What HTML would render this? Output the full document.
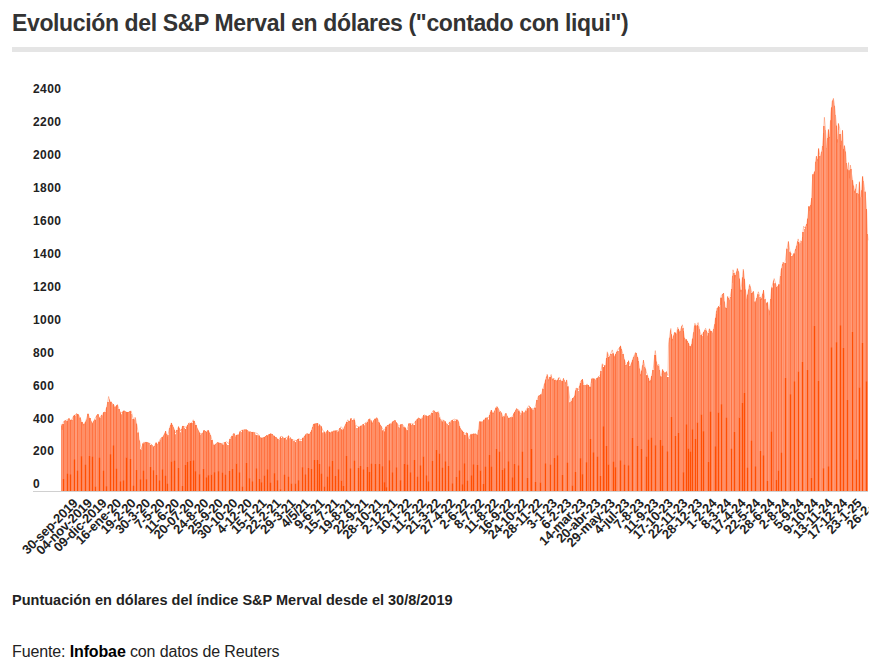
<!DOCTYPE html>
<html><head><meta charset="utf-8"><title>Merval</title>
<style>
html,body{margin:0;padding:0;background:#fff;}
body{width:878px;height:668px;overflow:hidden;position:relative;font-family:"Liberation Sans",sans-serif;}
#title{position:absolute;left:12px;top:9px;font-size:23px;font-weight:bold;color:#333;white-space:nowrap;line-height:28px;letter-spacing:-0.37px;}
#bar{position:absolute;left:12px;top:47px;width:856px;height:5px;background:#e5e5e5;}
#note{position:absolute;left:12px;top:591px;font-size:14.5px;font-weight:bold;color:#222;white-space:nowrap;line-height:18px;letter-spacing:0;}
#src{position:absolute;left:12px;top:641.5px;font-size:16px;color:#222;white-space:nowrap;line-height:20px;letter-spacing:-0.13px;}
#src b{color:#000;}
svg{position:absolute;left:0;top:0;}
svg text{font-family:"Liberation Sans",sans-serif;font-weight:bold;fill:#222;}
.yl text{font-size:12px;letter-spacing:0.4px;}
.xl text{font-size:13px;letter-spacing:-0.2px;}
</style></head><body>
<div id="title">Evolución del S&amp;P Merval en dólares ("contado con liqui")</div>
<div id="bar"></div>
<svg width="878" height="668" viewBox="0 0 878 668">
<defs><clipPath id="cp"><path d="M61,491 V425.4 H62 V424.0 H64 V420.8 H65 V420.3 H66 V421.0 H67 V420.7 H68 V418.6 H69 V418.6 H70 V419.9 H71 V419.8 H73 V415.8 H74 V415.0 H75 V415.7 H76 V413.4 H77 V414.0 H78 V414.4 H79 V417.6 H81 V422.0 H83 V423.7 H85 V421.5 H86 V419.5 H87 V413.8 H89 V418.0 H91 V421.4 H92 V423.2 H93 V421.2 H94 V419.8 H96 V415.6 H97 V414.3 H99 V417.5 H101 V415.0 H102 V415.5 H103 V412.0 H105 V412.1 H106 V407.4 H107 V402.1 H109 V399.6 H110 V401.7 H112 V404.5 H113 V404.2 H114 V406.7 H116 V405.4 H117 V404.7 H118 V409.1 H120 V412.4 H121 V414.3 H122 V411.7 H123 V410.7 H125 V411.4 H126 V411.9 H127 V412.0 H129 V411.2 H131 V414.3 H132 V418.9 H134 V419.3 H135 V418.3 H136 V423.8 H137 V432.6 H139 V440.6 H140 V449.5 H142 V443.4 H144 V442.8 H145 V442.1 H146 V442.2 H148 V442.7 H149 V443.0 H150 V444.9 H151 V444.5 H152 V445.5 H153 V446.5 H154 V446.0 H155 V443.2 H156 V442.8 H157 V444.1 H158 V441.8 H160 V439.6 H161 V437.6 H162 V436.9 H163 V435.6 H164 V433.4 H165 V431.2 H166 V434.0 H167 V435.2 H169 V428.0 H170 V425.0 H171 V423.0 H172 V425.0 H173 V427.2 H174 V429.7 H175 V434.3 H176 V429.9 H178 V426.6 H179 V428.2 H180 V432.2 H181 V428.9 H182 V425.9 H184 V427.8 H185 V428.9 H186 V426.8 H187 V425.1 H188 V423.3 H189 V423.6 H190 V423.0 H191 V422.8 H192 V422.9 H193 V420.9 H195 V425.0 H197 V428.4 H198 V430.5 H199 V432.5 H200 V434.5 H201 V433.7 H202 V433.2 H203 V430.2 H205 V431.1 H206 V432.1 H207 V430.6 H208 V430.4 H209 V432.7 H210 V434.9 H211 V439.9 H213 V444.8 H215 V444.0 H216 V442.9 H217 V442.2 H218 V442.5 H219 V442.9 H221 V443.4 H222 V444.5 H224 V442.3 H225 V441.9 H226 V443.6 H227 V444.9 H229 V439.0 H231 V436.2 H232 V436.0 H233 V433.5 H235 V436.3 H236 V435.0 H237 V434.7 H239 V431.6 H241 V432.2 H242 V429.9 H243 V430.6 H244 V429.5 H245 V429.6 H247 V430.2 H248 V431.4 H250 V431.5 H251 V432.1 H252 V432.1 H253 V432.1 H254 V432.4 H255 V434.6 H256 V435.3 H258 V435.4 H260 V437.6 H261 V437.7 H262 V437.7 H263 V437.3 H264 V436.9 H265 V435.9 H266 V435.1 H267 V435.7 H268 V434.6 H269 V434.1 H270 V433.6 H271 V434.1 H273 V435.8 H275 V437.1 H276 V437.2 H277 V438.7 H278 V439.5 H279 V439.8 H280 V436.7 H281 V438.0 H282 V436.8 H283 V438.3 H284 V438.1 H285 V437.7 H286 V439.4 H287 V437.4 H288 V435.5 H289 V438.5 H290 V437.6 H291 V439.2 H293 V440.9 H295 V442.3 H296 V440.1 H297 V438.9 H299 V440.8 H301 V441.2 H302 V437.8 H304 V435.9 H305 V434.5 H306 V433.9 H307 V433.6 H308 V433.9 H310 V432.1 H311 V430.2 H312 V427.0 H313 V423.9 H314 V423.8 H315 V423.6 H316 V423.3 H318 V425.6 H319 V424.5 H320 V425.9 H322 V432.4 H324 V431.8 H325 V433.3 H326 V431.6 H327 V430.3 H328 V431.7 H329 V432.0 H330 V432.5 H331 V431.4 H333 V430.8 H335 V430.6 H336 V430.4 H337 V431.5 H339 V427.9 H341 V429.5 H343 V429.3 H344 V426.4 H345 V424.2 H346 V422.1 H347 V422.1 H348 V421.0 H350 V418.4 H352 V419.9 H354 V419.7 H355 V425.4 H356 V427.9 H358 V426.7 H359 V426.7 H360 V425.8 H362 V424.4 H363 V424.1 H364 V425.3 H365 V422.7 H366 V423.0 H367 V422.1 H368 V419.2 H370 V420.6 H372 V422.8 H373 V420.5 H374 V418.8 H376 V417.8 H377 V418.6 H378 V422.1 H379 V422.7 H380 V425.0 H381 V426.2 H382 V430.5 H384 V431.4 H385 V426.7 H387 V424.9 H389 V423.8 H391 V423.6 H392 V421.6 H393 V421.0 H394 V420.3 H396 V422.3 H397 V423.7 H398 V426.5 H399 V427.5 H400 V424.3 H402 V424.4 H403 V426.8 H404 V427.6 H406 V430.3 H408 V423.6 H410 V423.5 H411 V425.1 H412 V423.8 H413 V425.1 H415 V421.0 H416 V419.7 H417 V418.7 H418 V417.7 H419 V418.2 H420 V418.9 H422 V417.8 H423 V415.1 H424 V415.8 H425 V415.4 H427 V416.3 H428 V415.7 H429 V415.1 H430 V415.3 H431 V413.0 H433 V410.7 H435 V412.0 H436 V412.4 H437 V411.9 H438 V412.8 H439 V417.6 H440 V419.2 H441 V420.6 H442 V421.5 H443 V420.1 H444 V421.3 H446 V423.7 H447 V424.2 H448 V425.2 H449 V422.0 H450 V422.2 H451 V420.4 H452 V419.9 H453 V421.0 H454 V420.7 H456 V419.8 H458 V421.4 H459 V426.3 H460 V428.3 H461 V429.8 H462 V430.7 H463 V432.1 H464 V434.7 H466 V432.4 H467 V433.1 H468 V438.8 H470 V434.6 H472 V434.0 H473 V433.4 H474 V433.7 H475 V433.6 H476 V434.5 H477 V434.8 H478 V429.7 H479 V421.5 H481 V421.7 H483 V419.7 H485 V417.8 H487 V417.5 H488 V419.4 H489 V414.9 H490 V411.8 H491 V410.3 H492 V412.7 H494 V410.7 H495 V407.8 H497 V407.1 H498 V408.8 H499 V411.7 H500 V411.5 H501 V412.8 H502 V416.8 H503 V416.6 H505 V413.5 H507 V416.2 H508 V418.0 H509 V417.7 H510 V417.2 H511 V417.3 H513 V413.5 H514 V411.9 H515 V410.3 H516 V408.5 H517 V409.0 H518 V410.8 H519 V411.4 H520 V415.2 H521 V413.2 H522 V411.2 H523 V412.8 H524 V412.4 H525 V410.7 H526 V410.5 H527 V408.6 H528 V408.1 H529 V406.0 H530 V407.3 H531 V408.5 H532 V409.5 H533 V409.8 H534 V407.7 H536 V400.1 H538 V395.8 H539 V395.2 H540 V394.3 H542 V388.7 H544 V383.4 H545 V379.4 H546 V376.4 H547 V375.2 H548 V379.4 H549 V377.1 H551 V376.0 H552 V378.7 H554 V379.9 H556 V380.7 H557 V380.0 H558 V377.9 H559 V380.1 H561 V381.2 H562 V380.9 H563 V378.3 H564 V380.3 H565 V382.3 H566 V380.2 H567 V386.4 H569 V402.2 H571 V400.9 H572 V398.3 H573 V397.6 H574 V395.7 H575 V390.3 H576 V388.3 H578 V391.0 H579 V385.7 H580 V382.9 H581 V380.1 H582 V379.3 H583 V385.0 H585 V385.2 H587 V385.1 H589 V386.8 H591 V378.7 H593 V378.7 H595 V380.3 H596 V378.2 H597 V378.0 H598 V376.4 H599 V376.9 H600 V371.0 H602 V364.4 H603 V366.9 H604 V365.6 H606 V357.9 H607 V353.2 H608 V357.1 H609 V356.5 H610 V354.1 H612 V353.3 H614 V356.5 H615 V354.3 H616 V352.1 H617 V351.1 H619 V347.2 H620 V345.8 H621 V349.1 H622 V354.0 H624 V359.0 H625 V364.9 H627 V362.1 H628 V360.6 H629 V366.1 H631 V362.4 H632 V359.7 H633 V356.9 H634 V355.6 H635 V353.1 H637 V356.9 H638 V361.1 H639 V368.4 H640 V374.3 H641 V370.5 H642 V365.2 H643 V360.0 H644 V366.7 H645 V368.5 H646 V375.2 H648 V378.0 H649 V380.9 H650 V380.2 H651 V376.1 H652 V369.9 H654 V355.0 H656 V361.4 H657 V365.6 H658 V365.7 H659 V370.0 H660 V376.5 H662 V369.6 H663 V370.9 H664 V372.6 H666 V371.5 H667 V377.0 H669 V337.8 H670 V330.3 H671 V334.1 H672 V338.9 H673 V335.6 H674 V332.5 H676 V333.8 H677 V329.6 H678 V328.9 H679 V331.7 H680 V330.8 H681 V326.2 H682 V328.3 H684 V337.7 H685 V339.4 H687 V341.0 H688 V343.0 H689 V345.9 H691 V344.2 H692 V338.8 H693 V332.3 H694 V325.6 H695 V325.4 H696 V326.0 H697 V325.2 H698 V326.4 H699 V329.3 H700 V334.7 H702 V336.2 H703 V332.1 H704 V330.2 H705 V330.0 H706 V330.7 H707 V335.2 H708 V333.1 H709 V328.7 H710 V330.9 H712 V333.0 H713 V329.1 H714 V324.2 H715 V317.8 H716 V310.7 H717 V307.9 H718 V306.0 H719 V307.1 H720 V297.8 H722 V294.0 H723 V292.9 H724 V301.4 H725 V307.6 H726 V308.0 H727 V297.0 H728 V298.0 H729 V300.3 H730 V297.1 H731 V289.0 H732 V275.8 H733 V272.9 H735 V275.0 H736 V271.6 H737 V268.8 H738 V271.2 H739 V278.6 H740 V289.7 H742 V277.4 H743 V270.6 H744 V278.8 H745 V289.4 H746 V299.1 H747 V294.6 H748 V289.6 H749 V285.6 H750 V286.7 H751 V292.9 H752 V292.4 H753 V291.6 H754 V301.4 H756 V298.1 H757 V294.2 H759 V296.9 H761 V298.3 H762 V293.7 H763 V290.3 H764 V299.3 H766 V302.8 H768 V309.8 H769 V310.5 H770 V299.1 H771 V287.4 H773 V280.5 H774 V283.3 H776 V286.9 H777 V286.5 H778 V284.3 H780 V275.9 H781 V268.4 H782 V264.1 H783 V262.4 H784 V263.1 H786 V248.8 H788 V241.8 H789 V251.8 H791 V256.1 H793 V253.6 H795 V249.1 H796 V245.8 H797 V241.3 H798 V242.1 H799 V243.9 H800 V242.7 H801 V241.6 H802 V232.1 H804 V229.0 H805 V226.8 H806 V224.1 H807 V218.4 H808 V206.6 H810 V205.0 H811 V198.3 H812 V174.3 H814 V171.6 H815 V161.7 H816 V156.3 H817 V159.2 H818 V149.3 H819 V156.1 H821 V151.7 H822 V145.9 H823 V126.0 H825 V130.4 H826 V147.9 H827 V138.0 H828 V129.7 H829 V137.1 H830 V120.3 H831 V107.4 H832 V100.5 H833 V98.8 H834 V105.7 H835 V115.3 H836 V125.5 H837 V139.2 H838 V123.6 H839 V134.1 H841 V140.7 H842 V130.3 H843 V149.1 H844 V145.8 H845 V151.6 H846 V163.0 H847 V169.6 H848 V170.2 H850 V169.1 H852 V180.2 H853 V185.4 H854 V190.8 H855 V188.7 H856 V193.2 H858 V193.7 H859 V182.2 H860 V197.7 H861 V190.3 H862 V177.1 H863 V181.1 H864 V191.8 H866 V209.0 H867 V234.1 H868 V491 Z"/></clipPath><clipPath id="cx"><rect x="0" y="480" width="868.5" height="120"/></clipPath></defs>
<path d="M33,491.5 H868" stroke="#d0d0d0" stroke-width="1" fill="none"/>
<path d="M61,491 V425.4 H62 V424.0 H64 V420.8 H65 V420.3 H66 V421.0 H67 V420.7 H68 V418.6 H69 V418.6 H70 V419.9 H71 V419.8 H73 V415.8 H74 V415.0 H75 V415.7 H76 V413.4 H77 V414.0 H78 V414.4 H79 V417.6 H81 V422.0 H83 V423.7 H85 V421.5 H86 V419.5 H87 V413.8 H89 V418.0 H91 V421.4 H92 V423.2 H93 V421.2 H94 V419.8 H96 V415.6 H97 V414.3 H99 V417.5 H101 V415.0 H102 V415.5 H103 V412.0 H105 V412.1 H106 V407.4 H107 V402.1 H109 V399.6 H110 V401.7 H112 V404.5 H113 V404.2 H114 V406.7 H116 V405.4 H117 V404.7 H118 V409.1 H120 V412.4 H121 V414.3 H122 V411.7 H123 V410.7 H125 V411.4 H126 V411.9 H127 V412.0 H129 V411.2 H131 V414.3 H132 V418.9 H134 V419.3 H135 V418.3 H136 V423.8 H137 V432.6 H139 V440.6 H140 V449.5 H142 V443.4 H144 V442.8 H145 V442.1 H146 V442.2 H148 V442.7 H149 V443.0 H150 V444.9 H151 V444.5 H152 V445.5 H153 V446.5 H154 V446.0 H155 V443.2 H156 V442.8 H157 V444.1 H158 V441.8 H160 V439.6 H161 V437.6 H162 V436.9 H163 V435.6 H164 V433.4 H165 V431.2 H166 V434.0 H167 V435.2 H169 V428.0 H170 V425.0 H171 V423.0 H172 V425.0 H173 V427.2 H174 V429.7 H175 V434.3 H176 V429.9 H178 V426.6 H179 V428.2 H180 V432.2 H181 V428.9 H182 V425.9 H184 V427.8 H185 V428.9 H186 V426.8 H187 V425.1 H188 V423.3 H189 V423.6 H190 V423.0 H191 V422.8 H192 V422.9 H193 V420.9 H195 V425.0 H197 V428.4 H198 V430.5 H199 V432.5 H200 V434.5 H201 V433.7 H202 V433.2 H203 V430.2 H205 V431.1 H206 V432.1 H207 V430.6 H208 V430.4 H209 V432.7 H210 V434.9 H211 V439.9 H213 V444.8 H215 V444.0 H216 V442.9 H217 V442.2 H218 V442.5 H219 V442.9 H221 V443.4 H222 V444.5 H224 V442.3 H225 V441.9 H226 V443.6 H227 V444.9 H229 V439.0 H231 V436.2 H232 V436.0 H233 V433.5 H235 V436.3 H236 V435.0 H237 V434.7 H239 V431.6 H241 V432.2 H242 V429.9 H243 V430.6 H244 V429.5 H245 V429.6 H247 V430.2 H248 V431.4 H250 V431.5 H251 V432.1 H252 V432.1 H253 V432.1 H254 V432.4 H255 V434.6 H256 V435.3 H258 V435.4 H260 V437.6 H261 V437.7 H262 V437.7 H263 V437.3 H264 V436.9 H265 V435.9 H266 V435.1 H267 V435.7 H268 V434.6 H269 V434.1 H270 V433.6 H271 V434.1 H273 V435.8 H275 V437.1 H276 V437.2 H277 V438.7 H278 V439.5 H279 V439.8 H280 V436.7 H281 V438.0 H282 V436.8 H283 V438.3 H284 V438.1 H285 V437.7 H286 V439.4 H287 V437.4 H288 V435.5 H289 V438.5 H290 V437.6 H291 V439.2 H293 V440.9 H295 V442.3 H296 V440.1 H297 V438.9 H299 V440.8 H301 V441.2 H302 V437.8 H304 V435.9 H305 V434.5 H306 V433.9 H307 V433.6 H308 V433.9 H310 V432.1 H311 V430.2 H312 V427.0 H313 V423.9 H314 V423.8 H315 V423.6 H316 V423.3 H318 V425.6 H319 V424.5 H320 V425.9 H322 V432.4 H324 V431.8 H325 V433.3 H326 V431.6 H327 V430.3 H328 V431.7 H329 V432.0 H330 V432.5 H331 V431.4 H333 V430.8 H335 V430.6 H336 V430.4 H337 V431.5 H339 V427.9 H341 V429.5 H343 V429.3 H344 V426.4 H345 V424.2 H346 V422.1 H347 V422.1 H348 V421.0 H350 V418.4 H352 V419.9 H354 V419.7 H355 V425.4 H356 V427.9 H358 V426.7 H359 V426.7 H360 V425.8 H362 V424.4 H363 V424.1 H364 V425.3 H365 V422.7 H366 V423.0 H367 V422.1 H368 V419.2 H370 V420.6 H372 V422.8 H373 V420.5 H374 V418.8 H376 V417.8 H377 V418.6 H378 V422.1 H379 V422.7 H380 V425.0 H381 V426.2 H382 V430.5 H384 V431.4 H385 V426.7 H387 V424.9 H389 V423.8 H391 V423.6 H392 V421.6 H393 V421.0 H394 V420.3 H396 V422.3 H397 V423.7 H398 V426.5 H399 V427.5 H400 V424.3 H402 V424.4 H403 V426.8 H404 V427.6 H406 V430.3 H408 V423.6 H410 V423.5 H411 V425.1 H412 V423.8 H413 V425.1 H415 V421.0 H416 V419.7 H417 V418.7 H418 V417.7 H419 V418.2 H420 V418.9 H422 V417.8 H423 V415.1 H424 V415.8 H425 V415.4 H427 V416.3 H428 V415.7 H429 V415.1 H430 V415.3 H431 V413.0 H433 V410.7 H435 V412.0 H436 V412.4 H437 V411.9 H438 V412.8 H439 V417.6 H440 V419.2 H441 V420.6 H442 V421.5 H443 V420.1 H444 V421.3 H446 V423.7 H447 V424.2 H448 V425.2 H449 V422.0 H450 V422.2 H451 V420.4 H452 V419.9 H453 V421.0 H454 V420.7 H456 V419.8 H458 V421.4 H459 V426.3 H460 V428.3 H461 V429.8 H462 V430.7 H463 V432.1 H464 V434.7 H466 V432.4 H467 V433.1 H468 V438.8 H470 V434.6 H472 V434.0 H473 V433.4 H474 V433.7 H475 V433.6 H476 V434.5 H477 V434.8 H478 V429.7 H479 V421.5 H481 V421.7 H483 V419.7 H485 V417.8 H487 V417.5 H488 V419.4 H489 V414.9 H490 V411.8 H491 V410.3 H492 V412.7 H494 V410.7 H495 V407.8 H497 V407.1 H498 V408.8 H499 V411.7 H500 V411.5 H501 V412.8 H502 V416.8 H503 V416.6 H505 V413.5 H507 V416.2 H508 V418.0 H509 V417.7 H510 V417.2 H511 V417.3 H513 V413.5 H514 V411.9 H515 V410.3 H516 V408.5 H517 V409.0 H518 V410.8 H519 V411.4 H520 V415.2 H521 V413.2 H522 V411.2 H523 V412.8 H524 V412.4 H525 V410.7 H526 V410.5 H527 V408.6 H528 V408.1 H529 V406.0 H530 V407.3 H531 V408.5 H532 V409.5 H533 V409.8 H534 V407.7 H536 V400.1 H538 V395.8 H539 V395.2 H540 V394.3 H542 V388.7 H544 V383.4 H545 V379.4 H546 V376.4 H547 V375.2 H548 V379.4 H549 V377.1 H551 V376.0 H552 V378.7 H554 V379.9 H556 V380.7 H557 V380.0 H558 V377.9 H559 V380.1 H561 V381.2 H562 V380.9 H563 V378.3 H564 V380.3 H565 V382.3 H566 V380.2 H567 V386.4 H569 V402.2 H571 V400.9 H572 V398.3 H573 V397.6 H574 V395.7 H575 V390.3 H576 V388.3 H578 V391.0 H579 V385.7 H580 V382.9 H581 V380.1 H582 V379.3 H583 V385.0 H585 V385.2 H587 V385.1 H589 V386.8 H591 V378.7 H593 V378.7 H595 V380.3 H596 V378.2 H597 V378.0 H598 V376.4 H599 V376.9 H600 V371.0 H602 V364.4 H603 V366.9 H604 V365.6 H606 V357.9 H607 V353.2 H608 V357.1 H609 V356.5 H610 V354.1 H612 V353.3 H614 V356.5 H615 V354.3 H616 V352.1 H617 V351.1 H619 V347.2 H620 V345.8 H621 V349.1 H622 V354.0 H624 V359.0 H625 V364.9 H627 V362.1 H628 V360.6 H629 V366.1 H631 V362.4 H632 V359.7 H633 V356.9 H634 V355.6 H635 V353.1 H637 V356.9 H638 V361.1 H639 V368.4 H640 V374.3 H641 V370.5 H642 V365.2 H643 V360.0 H644 V366.7 H645 V368.5 H646 V375.2 H648 V378.0 H649 V380.9 H650 V380.2 H651 V376.1 H652 V369.9 H654 V355.0 H656 V361.4 H657 V365.6 H658 V365.7 H659 V370.0 H660 V376.5 H662 V369.6 H663 V370.9 H664 V372.6 H666 V371.5 H667 V377.0 H669 V337.8 H670 V330.3 H671 V334.1 H672 V338.9 H673 V335.6 H674 V332.5 H676 V333.8 H677 V329.6 H678 V328.9 H679 V331.7 H680 V330.8 H681 V326.2 H682 V328.3 H684 V337.7 H685 V339.4 H687 V341.0 H688 V343.0 H689 V345.9 H691 V344.2 H692 V338.8 H693 V332.3 H694 V325.6 H695 V325.4 H696 V326.0 H697 V325.2 H698 V326.4 H699 V329.3 H700 V334.7 H702 V336.2 H703 V332.1 H704 V330.2 H705 V330.0 H706 V330.7 H707 V335.2 H708 V333.1 H709 V328.7 H710 V330.9 H712 V333.0 H713 V329.1 H714 V324.2 H715 V317.8 H716 V310.7 H717 V307.9 H718 V306.0 H719 V307.1 H720 V297.8 H722 V294.0 H723 V292.9 H724 V301.4 H725 V307.6 H726 V308.0 H727 V297.0 H728 V298.0 H729 V300.3 H730 V297.1 H731 V289.0 H732 V275.8 H733 V272.9 H735 V275.0 H736 V271.6 H737 V268.8 H738 V271.2 H739 V278.6 H740 V289.7 H742 V277.4 H743 V270.6 H744 V278.8 H745 V289.4 H746 V299.1 H747 V294.6 H748 V289.6 H749 V285.6 H750 V286.7 H751 V292.9 H752 V292.4 H753 V291.6 H754 V301.4 H756 V298.1 H757 V294.2 H759 V296.9 H761 V298.3 H762 V293.7 H763 V290.3 H764 V299.3 H766 V302.8 H768 V309.8 H769 V310.5 H770 V299.1 H771 V287.4 H773 V280.5 H774 V283.3 H776 V286.9 H777 V286.5 H778 V284.3 H780 V275.9 H781 V268.4 H782 V264.1 H783 V262.4 H784 V263.1 H786 V248.8 H788 V241.8 H789 V251.8 H791 V256.1 H793 V253.6 H795 V249.1 H796 V245.8 H797 V241.3 H798 V242.1 H799 V243.9 H800 V242.7 H801 V241.6 H802 V232.1 H804 V229.0 H805 V226.8 H806 V224.1 H807 V218.4 H808 V206.6 H810 V205.0 H811 V198.3 H812 V174.3 H814 V171.6 H815 V161.7 H816 V156.3 H817 V159.2 H818 V149.3 H819 V156.1 H821 V151.7 H822 V145.9 H823 V126.0 H825 V130.4 H826 V147.9 H827 V138.0 H828 V129.7 H829 V137.1 H830 V120.3 H831 V107.4 H832 V100.5 H833 V98.8 H834 V105.7 H835 V115.3 H836 V125.5 H837 V139.2 H838 V123.6 H839 V134.1 H841 V140.7 H842 V130.3 H843 V149.1 H844 V145.8 H845 V151.6 H846 V163.0 H847 V169.6 H848 V170.2 H850 V169.1 H852 V180.2 H853 V185.4 H854 V190.8 H855 V188.7 H856 V193.2 H858 V193.7 H859 V182.2 H860 V197.7 H861 V190.3 H862 V177.1 H863 V181.1 H864 V191.8 H866 V209.0 H867 V234.1 H868 V491 Z" fill="#ff8f67"/>
<path d="M61.3,424.1 L62,429.8 L63.5,421.6 L67.3,419.7 L69.2,418.5 L71.1,421 L73.6,416 L76.1,414.1 L78.4,414.5 L81.2,420.4 L83.3,425.4 L85.6,421.6 L88,414.1 L90,419.1 L92.5,423.5 L95,418.5 L97.8,414.1 L99.4,417.9 L102.5,414.1 L105.7,410.9 L107.6,403.4 L108.6,396.5 L110.1,402.1 L113.2,404 L115.1,407.2 L117.4,404.7 L119.5,410.9 L121.4,412.8 L123.9,410.9 L127.7,412.8 L131.1,410.9 L133.4,419.7 L135.2,417.2 L137.1,426 L139,438.6 L141.3,449.3 L143.4,442.4 L146.6,442.4 L150.3,443.6 L154.1,447.4 L156,442.4 L157.9,444.9 L160.4,438.6 L163.1,436.8 L165.7,431.1 L167.5,436.8 L169.4,428.6 L171.3,422.9 L173.2,426.7 L175.7,433 L178.6,426.7 L180.8,431.1 L182.6,426.1 L186.4,427.3 L188.9,422.9 L191.4,423.6 L193.3,419.8 L195.8,424.8 L197.7,429.2 L199.6,433 L202.1,434.3 L204,430.5 L205.9,431.7 L208.4,430.5 L210.9,436.1 L212.8,443.1 L214.3,445.6 L217.2,442.4 L221.6,443.7 L226.7,441.8 L228.6,443.7 L230.4,438 L233.6,433.6 L235.5,435.5 L238.6,434.9 L241.1,430.5 L243.6,429.9 L246.8,429.9 L249.9,432.4 L253.7,432.4 L257.5,433.6 L260.6,438 L263.1,438 L266.9,435.8 L271,433.6 L274.8,436.8 L278.6,439.9 L281.1,436.1 L284.9,438.7 L288.6,436.1 L292.4,439.9 L296.2,440.6 L298.7,438.7 L301.2,439.9 L303.7,437.4 L306.3,433.6 L309.4,434.3 L311.3,431.1 L313.5,424.2 L317.6,423.6 L320.7,425.5 L323.2,431.1 L325.7,433 L327.6,430.5 L330.2,433 L333.9,431.1 L338.3,430.5 L341.1,426.7 L343.4,429.2 L345.9,423.6 L347.8,419.8 L349.6,422.3 L350.9,418.5 L352.2,421.7 L354.1,418.5 L355.9,425.5 L359.1,427.3 L362.9,424.8 L366.6,422.3 L369.8,418.5 L372.3,423.6 L373.9,419.9 L377,417.7 L379.5,423.6 L382.1,428 L384,430.6 L386.5,426.1 L390.9,423.6 L394.4,420.5 L397.2,423.6 L399,426.1 L402.2,424.3 L404.7,427.4 L406.6,430.6 L409.1,423.6 L413.5,424.3 L416,420.5 L418.5,418 L421.1,419.2 L424,414.8 L427.3,416.7 L430.5,414.8 L433.3,410.4 L436.2,412.9 L438.4,411.7 L440.6,419.9 L444.3,420.5 L447.1,424.9 L450.6,421.1 L454.4,419.2 L458.2,420.5 L460.1,428 L462.6,431.8 L465.7,433.7 L467.3,433.1 L468.6,438.7 L470.7,434.3 L475.1,434.3 L477,435 L478.3,430.6 L479.5,421.7 L482.4,422 L485.5,418.2 L488.7,417.6 L491.2,410 L493.1,413.8 L496.9,406.3 L499.4,410.7 L501.3,412.6 L503.2,417.6 L505.7,413.2 L508.8,418.9 L512.6,416.3 L516.4,408.8 L518.9,410 L520.5,414.5 L522,410.7 L523.9,413.8 L526.4,409.4 L528.9,405.6 L531.5,408.8 L534.6,408.8 L536.5,401.9 L538.4,396.2 L541.5,394.3 L544,385.5 L547.2,374.2 L548.7,380.5 L551.2,374.5 L552.2,380.5 L553.5,378 L556.6,381.1 L559.1,377.3 L561.6,381.7 L563.5,378.6 L565.4,383.6 L566.7,379.9 L568.6,390.6 L570.5,404.4 L572.3,398.7 L574.2,397.5 L576.1,388 L578.6,389.9 L580.5,381.7 L582.4,379.2 L584.3,386.8 L587.1,383.9 L589.7,388.3 L592.2,378.2 L595.3,379.5 L600.4,375.1 L602.2,363.8 L605.4,366.9 L607.3,351.8 L609.2,357.5 L612.3,349.9 L614.2,357.5 L617.3,350.6 L620.5,346.1 L623,354.3 L626.1,365.6 L628.7,361.2 L630.5,366.3 L633.1,358.1 L635.6,352.4 L638.1,358.7 L640.6,375.7 L643.4,360.6 L646.3,371.9 L650,382.6 L653.2,369.4 L655.3,350.6 L657,365.6 L658.8,364.4 L660.7,378.2 L662.6,369.4 L664.5,373.2 L666.4,371.9 L668,375.7 L668.5,344.3 L670.8,328.5 L672.1,340.5 L674.6,332.3 L676.5,334.8 L677.7,327.3 L679.6,332.3 L682.4,324.8 L684.6,338.6 L687.1,340.5 L690.9,348 L693.4,333.3 L694.9,323.3 L696.2,327 L698.1,322.6 L700,332.1 L701.8,335.8 L705.6,328.3 L707.5,334.6 L709.4,328.9 L712.5,333.3 L714.4,325.8 L716.9,308.2 L720.1,305.6 L721.3,295.6 L723.6,293.1 L725.1,307.5 L726.4,309.4 L727.6,296.2 L729.5,300.6 L731.4,290.6 L733,269.8 L735.2,277.3 L737.3,268.5 L738.9,272.9 L740.8,291.8 L743.3,269.2 L744.6,280.5 L746.5,300 L749.6,284.3 L752.2,294.3 L753.4,291.2 L755.3,303.8 L758.4,291.8 L761,300.6 L763.5,290.6 L766,305.6 L767.5,301.9 L769.1,315.1 L771.6,288 L774.2,278.6 L776.7,288 L779.2,284.3 L781.1,270.4 L783,262.2 L784.9,264.1 L786.7,250.8 L788.4,241.4 L790,252.1 L793.2,256.3 L796.3,247 L798.2,238.9 L799.4,244.5 L800.7,240.7 L802,242.6 L803.6,226.3 L805.1,228.2 L807,223.1 L808.3,213.1 L808.9,206.1 L809.5,210.6 L811.4,200.5 L812.7,176 L815.2,170.3 L815.5,162 L816.4,156.3 L817.7,160.7 L818.6,148.2 L820.2,157.6 L822.1,149.4 L823.3,136.8 L824.4,117.3 L825.9,135.6 L826.5,148.2 L828.4,129.3 L829.6,138.1 L830.9,112.9 L832.2,101.6 L833.4,98.5 L834.3,104.1 L835.3,113.6 L836.6,126.8 L837.2,142.5 L838.4,123.6 L839.7,128 L840.7,149.4 L842.5,130.6 L843.5,149.4 L844.4,145.6 L845.4,150.7 L846.6,164.5 L847.9,170.8 L848.5,162.6 L849.5,178.3 L850.4,165.1 L851.6,174.3 L852.9,181.6 L854.8,192.9 L856.4,184.1 L857.6,203 L859.4,181.6 L860.7,201.7 L862.6,176 L864.2,186.7 L865.5,196.7 L866.7,211.8 L867.4,233.2 L868,240.3" fill="none" stroke="#ff7440" stroke-width="0.6" stroke-linejoin="miter" opacity="0.75"/>
<g clip-path="url(#cp)" shape-rendering="crispEdges" fill="none" stroke-width="1">
<path d="M62.0,491 V429.5 M67.0,491 V419.5 M75.0,491 V414.6 M76.0,491 V413.9 M85.0,491 V422.3 M89.0,491 V416.3 M92.0,491 V422.3 M96.0,491 V416.6 M102.0,491 V414.4 M103.0,491 V413.3 M112.0,491 V403.0 M130.0,491 V411.2 M131.0,491 V410.7 M132.0,491 V414.0 M135.0,491 V417.2 M140.0,491 V443.0 M149.0,491 V442.9 M152.0,491 V445.0 M154.0,491 V447.0 M157.0,491 V443.4 M161.0,491 V437.9 M168.0,491 V434.3 M176.0,491 V432.0 M178.0,491 V427.7 M181.0,491 V430.2 M192.0,491 V422.1 M199.0,491 V431.5 M201.0,491 V433.4 M202.0,491 V433.9 M206.0,491 V431.4 M211.0,491 V436.2 M216.0,491 V443.4 M228.0,491 V442.8 M236.0,491 V435.1 M240.0,491 V432.1 M241.0,491 V430.4 M243.0,491 V429.7 M246.0,491 V429.6 M250.0,491 V432.1 M252.0,491 V432.1 M253.0,491 V432.1 M256.0,491 V432.8 M257.0,491 V433.1 M261.0,491 V437.7 M267.0,491 V435.4 M278.0,491 V439.1 M279.0,491 V439.0 M280.0,491 V437.5 M283.0,491 V437.1 M289.0,491 V436.2 M292.0,491 V439.2 M296.0,491 V440.3 M301.0,491 V439.5 M306.0,491 V433.7 M311.0,491 V431.3 M312.0,491 V428.6 M320.0,491 V424.8 M321.0,491 V425.9 M323.0,491 V430.4 M328.0,491 V430.6 M338.0,491 V430.2 M341.0,491 V426.5 M351.0,491 V418.4 M355.0,491 V421.7 M356.0,491 V425.3 M357.0,491 V425.8 M359.0,491 V426.9 M362.0,491 V425.1 M365.0,491 V423.1 M370.0,491 V418.6 M375.0,491 V418.8 M379.0,491 V422.1 M383.0,491 V428.9 M387.0,491 V425.5 M390.0,491 V423.8 M397.0,491 V423.1 M402.0,491 V424.1 M408.0,491 V426.4 M410.0,491 V423.4 M414.0,491 V423.2 M416.0,491 V420.2 M421.0,491 V418.9 M424.0,491 V414.5 M427.0,491 V416.2 M433.0,491 V410.6 M440.0,491 V417.4 M443.0,491 V420.0 M446.0,491 V422.9 M447.0,491 V424.4 M454.0,491 V419.1 M456.0,491 V419.4 M462.0,491 V430.6 M468.0,491 V435.8 M473.0,491 V434.0 M482.0,491 V421.7 M495.0,491 V409.8 M498.0,491 V407.9 M500.0,491 V411.0 M503.0,491 V416.8 M506.0,491 V413.5 M512.0,491 V416.4 M517.0,491 V408.8 M520.0,491 V412.8 M523.0,491 V412.0 M529.0,491 V405.4 M531.0,491 V407.9 M533.0,491 V408.5 M534.0,491 V408.5 M546.0,491 V378.1 M551.0,491 V374.7 M564.0,491 V379.6 M568.0,491 V386.9 M570.0,491 V400.5 M576.0,491 V388.2 M578.0,491 V389.1 M579.0,491 V387.9 M584.0,491 V385.3 M585.0,491 V385.8 M591.0,491 V382.7 M595.0,491 V379.1 M601.0,491 V371.0 M603.0,491 V364.3 M605.0,491 V366.2 M610.0,491 V355.2 M613.0,491 V352.4 M618.0,491 V349.3 M624.0,491 V357.6 M632.0,491 V361.3 M634.0,491 V355.7 M641.0,491 V373.2 M643.0,491 V362.5 M648.0,491 V376.5 M651.0,491 V378.2 M655.0,491 V353.0 M668.0,491 V375.4 M670.0,491 V333.7 M676.0,491 V333.8 M678.0,491 V327.8 M683.0,491 V328.3 M692.0,491 V341.2 M696.0,491 V326.1 M698.0,491 V322.5 M702.0,491 V335.1 M712.0,491 V332.3 M715.0,491 V321.3 M720.0,491 V305.4 M730.0,491 V297.7 M732.0,491 V282.5 M734.0,491 V272.9 M739.0,491 V273.6 M746.0,491 V294.6 M749.0,491 V287.0 M750.0,491 V285.5 M759.0,491 V293.5 M760.0,491 V296.9 M761.0,491 V300.3 M765.0,491 V299.3 M768.0,491 V305.7 M776.0,491 V285.1 M777.0,491 V287.3 M782.0,491 V266.2 M784.0,491 V262.9 M787.0,491 V248.8 M790.0,491 V251.8 M795.0,491 V250.6 M797.0,491 V243.7 M799.0,491 V242.3 M800.0,491 V242.4 M801.0,491 V240.8 M802.0,491 V242.3 M804.0,491 V226.5 M806.0,491 V225.5 M818.0,491 V156.2 M820.0,491 V156.1 M822.0,491 V149.5 M823.0,491 V139.6 M824.0,491 V124.1 M825.0,491 V124.3 M831.0,491 V111.7 M833.0,491 V99.2 M835.0,491 V110.5 M838.0,491 V129.6 M851.0,491 V169.4 M857.0,491 V193.2 M860.0,491 V190.6 M861.0,491 V197.3 M863.0,491 V178.4 M864.0,491 V185.1" stroke="#ff9b79"/>
<path d="M127.0,491 V412.1 M191.0,491 V423.2 M269.0,491 V434.4 M350.0,491 V420.8 M385.0,491 V428.5 M405.0,491 V427.6 M485.0,491 V418.5 M508.0,491 V417.1 M530.0,491 V406.7 M588.0,491 V385.1 M593.0,491 V378.2 M604.0,491 V365.2 M686.0,491 V339.4 M716.0,491 V314.2 M773.0,491 V282.6 M811.0,491 V202.3 M63.5,479.082 V421.3 M67.5,473.789 V419.3 M70.5,474.535 V419.9 M74.5,459.548 V415.0 M77.5,470.768 V414.0 M81.5,456.219 V420.8 M85.5,464.819 V421.5 M89.5,455.863 V417.6 M92.5,456.822 V423.2 M95.5,486.448 V417.4 M99.5,457.731 V417.5 M103.5,470.762 V412.8 M106.5,486.261 V407.4 M110.5,454.343 V402.0 M113.5,445.542 V404.2 M116.5,468.812 V405.4 M120.5,481.56 V411.6 M123.5,480.623 V410.9 M126.5,457.459 V411.9 M130.5,459.031 V410.9 M133.5,485.696 V419.3 M136.5,470.074 V422.9 M140.5,479.622 V445.3 M143.5,470.808 V442.1 M146.5,479.229 V442.1 M150.5,467.132 V443.5 M153.5,470.194 V446.5 M156.5,475.016 V442.8 M159.5,480.578 V440.6 M162.5,469.611 V436.9 M165.5,475.787 V431.2 M167.5,483.826 V436.5 M171.5,461.378 V423.0 M174.5,460.657 V429.7 M178.5,467.986 V426.6 M182.5,485.974 V426.1 M185.5,465.086 V426.7 M187.5,462.084 V425.1 M190.5,461.101 V423.0 M193.5,460.611 V419.9 M195.5,471.172 V423.9 M199.5,474.32 V432.5 M203.5,468.896 V431.2 M206.5,477.537 V431.1 M208.5,475.283 V430.4 M211.5,474.409 V438.0 M214.5,472.231 V445.1 M218.5,471.291 V442.5 M222.5,472.804 V443.1 M225.5,474.8 V441.9 M229.5,471.021 V440.5 M232.5,468.856 V434.8 M236.5,463.355 V435.0 M239.5,472.541 V433.0 M242.5,486.37 V429.9 M246.5,462.936 V429.6 M249.5,478.159 V431.8 M252.5,481.525 V432.1 M256.5,468.612 V433.0 M259.5,479.059 V436.1 M261.5,482.287 V437.7 M264.5,475.466 V436.9 M267.5,469.643 V435.2 M270.5,482.764 V433.6 M274.5,473.238 V436.2 M277.5,480.302 V438.7 M280.5,489.195 V436.7 M284.5,474.839 V438.1 M288.5,476.731 V435.9 M291.5,483.499 V438.7 M295.5,483.492 V440.2 M298.5,480.35 V438.6 M302.5,467.331 V438.3 M305.5,474.566 V434.5 M308.5,468.043 V433.8 M311.5,468.964 V430.2 M314.5,459.942 V423.8 M317.5,459.946 V423.3 M319.5,463.884 V424.5 M321.5,473.755 V427.0 M324.5,486.494 V431.8 M327.5,476.765 V430.3 M329.5,466.614 V432.0 M332.5,460.977 V431.5 M335.5,476.069 V430.6 M338.5,469.308 V429.9 M341.5,480.46 V426.8 M343.5,486.15 V428.7 M346.5,455.879 V422.1 M350.5,468.439 V419.4 M354.5,460.772 V419.8 M358.5,468.079 V426.7 M360.5,465.946 V426.1 M363.5,469.516 V424.1 M367.5,466.954 V420.9 M369.5,472.016 V418.6 M371.5,463.728 V421.7 M375.5,463.924 V418.5 M379.5,464.077 V423.3 M382.5,466.18 V428.2 M384.5,482.174 V429.4 M386.5,487.263 V425.8 M389.5,460.195 V424.1 M392.5,472.575 V421.9 M396.5,467.622 V422.5 M400.5,480.233 V425.0 M404.5,464.002 V426.9 M407.5,464.673 V427.8 M410.5,472.51 V423.5 M414.5,460.025 V422.5 M417.5,476.723 V418.7 M420.5,465.624 V418.6 M423.5,456.377 V415.3 M426.5,475.644 V415.9 M428.5,481.641 V415.7 M432.5,460.946 V411.4 M436.5,450.145 V412.4 M439.5,453.376 V415.5 M442.5,467.843 V419.9 M445.5,461.626 V422.1 M448.5,466.02 V423.1 M452.5,483.519 V419.9 M456.5,476.878 V419.6 M459.5,470.513 V425.3 M462.5,484.208 V431.3 M464.5,463.645 V432.7 M467.5,480.729 V433.7 M471.5,475.583 V434.0 M473.5,464.617 V434.0 M477.5,465.093 V433.0 M480.5,470.491 V421.5 M483.5,484.048 V420.4 M485.5,466.785 V417.9 M489.5,455.107 V414.9 M491.5,466.723 V410.3 M496.5,449.014 V406.8 M499.5,451.495 V410.5 M502.5,469.984 V415.5 M504.5,468.253 V415.0 M508.5,461.463 V418.0 M512.5,477.614 V416.1 M514.5,464.096 V412.2 M518.5,465.618 V409.5 M522.5,451.7 V411.2 M527.5,478.148 V407.4 M531.5,448.897 V408.5 M535.5,482.067 V405.2 M540.5,482.374 V394.6 M545.5,463.573 V379.9 M550.5,464.369 V375.9 M554.5,457.956 V378.7 M557.5,455.604 V379.4 M562.5,475.094 V379.9 M567.5,462.847 V384.1 M572.5,485.431 V398.3 M575.5,471.967 V390.7 M580.5,458.26 V381.4 M582.5,474.198 V379.3 M586.5,462.284 V384.2 M590.5,438.9 V384.8 M593.5,452.593 V378.4 M597.5,456.787 V377.3 M600.5,475.995 V374.2 M603.5,426.505 V364.8 M606.5,446.02 V357.9 M608.5,464.353 V355.1 M613.5,461.712 V354.4 M615.5,467.283 V354.3 M620.5,460.615 V345.8 M624.5,464.718 V359.5 M628.5,465.624 V361.2 M632.5,438.037 V359.7 M637.5,445.861 V356.9 M641.5,449.073 V370.5 M646.5,456.401 V372.2 M648.5,439.732 V378.0 M651.5,437.84 V376.1 M655.5,445.332 V352.1 M660.5,440.012 V376.4 M662.5,445.679 V369.6 M667.5,451.562 V374.2 M671.5,417.132 V334.7 M675.5,436.068 V333.2 M678.5,433.148 V329.1 M683.5,472.301 V331.4 M686.5,424.472 V339.7 M688.5,448.486 V343.0 M690.5,451.771 V346.9 M692.5,429.553 V338.3 M695.5,438.974 V324.7 M697.5,422.476 V323.7 M701.5,414.387 V334.9 M703.5,431.282 V332.1 M708.5,462.054 V331.3 M710.5,411.719 V330.2 M715.5,446.53 V317.8 M718.5,412.424 V306.6 M721.5,404.209 V295.1 M726.5,417.658 V308.0 M731.5,448.812 V289.0 M734.5,431.96 V274.6 M739.5,417.44 V278.6 M742.5,403.08 V276.1 M744.5,392.958 V279.3 M747.5,467.834 V294.6 M751.5,440.834 V291.3 M755.5,466.622 V302.7 M760.5,451.127 V298.6 M763.5,455.6 V290.3 M767.5,480.881 V301.6 M771.5,431.688 V288.8 M776.5,480.001 V286.9 M778.5,470.351 V285.0 M781.5,452.776 V268.4 M785.5,378.027 V259.4 M790.5,394.24 V252.5 M794.5,381.522 V252.1 M798.5,371.382 V240.0 M802.5,361.914 V237.2 M807.5,370.108 V219.0 M811.5,478.027 V198.3 M814.5,326.118 V171.6 M818.5,381.012 V149.3 M823.5,468.31 V133.0 M828.5,466.554 V129.7 M831.5,347.646 V107.4 M836.5,342.203 V125.5 M840.5,325.535 V144.8 M843.5,348.103 V149.1 M847.5,399.962 V168.6 M852.5,331.994 V179.1 M856.5,459.817 V185.4 M859.5,387.361 V182.8 M862.5,342.853 V177.1 M866.5,381.539 V209.0" stroke="#ff7342"/>
</g>
<g clip-path="url(#cp)" fill="none"><path d="M63.5,491 V479.1 M67.5,491 V473.8 M70.5,491 V474.5 M74.5,491 V459.5 M77.5,491 V470.8 M81.5,491 V456.2 M85.5,491 V464.8 M89.5,491 V455.9 M92.5,491 V456.8 M95.5,491 V486.4 M99.5,491 V457.7 M103.5,491 V470.8 M106.5,491 V486.3 M110.5,491 V454.3 M113.5,491 V445.5 M116.5,491 V468.8 M120.5,491 V481.6 M123.5,491 V480.6 M126.5,491 V457.5 M130.5,491 V459.0 M133.5,491 V485.7 M136.5,491 V470.1 M140.5,491 V479.6 M143.5,491 V470.8 M146.5,491 V479.2 M150.5,491 V467.1 M153.5,491 V470.2 M156.5,491 V475.0 M159.5,491 V480.6 M162.5,491 V469.6 M165.5,491 V475.8 M167.5,491 V483.8 M171.5,491 V461.4 M174.5,491 V460.7 M178.5,491 V468.0 M182.5,491 V486.0 M185.5,491 V465.1 M187.5,491 V462.1 M190.5,491 V461.1 M193.5,491 V460.6 M195.5,491 V471.2 M199.5,491 V474.3 M203.5,491 V468.9 M206.5,491 V477.5 M208.5,491 V475.3 M211.5,491 V474.4 M214.5,491 V472.2 M218.5,491 V471.3 M222.5,491 V472.8 M225.5,491 V474.8 M229.5,491 V471.0 M232.5,491 V468.9 M236.5,491 V463.4 M239.5,491 V472.5 M242.5,491 V486.4 M246.5,491 V462.9 M249.5,491 V478.2 M252.5,491 V481.5 M256.5,491 V468.6 M259.5,491 V479.1 M261.5,491 V482.3 M264.5,491 V475.5 M267.5,491 V469.6 M270.5,491 V482.8 M274.5,491 V473.2 M277.5,491 V480.3 M280.5,491 V489.2 M284.5,491 V474.8 M288.5,491 V476.7 M291.5,491 V483.5 M295.5,491 V483.5 M298.5,491 V480.3 M302.5,491 V467.3 M305.5,491 V474.6 M308.5,491 V468.0 M311.5,491 V469.0 M314.5,491 V459.9 M317.5,491 V459.9 M319.5,491 V463.9 M321.5,491 V473.8 M324.5,491 V486.5 M327.5,491 V476.8 M329.5,491 V466.6 M332.5,491 V461.0 M335.5,491 V476.1 M338.5,491 V469.3 M341.5,491 V480.5 M343.5,491 V486.1 M346.5,491 V455.9 M350.5,491 V468.4 M354.5,491 V460.8 M358.5,491 V468.1 M360.5,491 V465.9 M363.5,491 V469.5 M367.5,491 V467.0 M369.5,491 V472.0 M371.5,491 V463.7 M375.5,491 V463.9 M379.5,491 V464.1 M382.5,491 V466.2 M384.5,491 V482.2 M386.5,491 V487.3 M389.5,491 V460.2 M392.5,491 V472.6 M396.5,491 V467.6 M400.5,491 V480.2 M404.5,491 V464.0 M407.5,491 V464.7 M410.5,491 V472.5 M414.5,491 V460.0 M417.5,491 V476.7 M420.5,491 V465.6 M423.5,491 V456.4 M426.5,491 V475.6 M428.5,491 V481.6 M432.5,491 V460.9 M436.5,491 V450.1 M439.5,491 V453.4 M442.5,491 V467.8 M445.5,491 V461.6 M448.5,491 V466.0 M452.5,491 V483.5 M456.5,491 V476.9 M459.5,491 V470.5 M462.5,491 V484.2 M464.5,491 V463.6 M467.5,491 V480.7 M471.5,491 V475.6 M473.5,491 V464.6 M477.5,491 V465.1 M480.5,491 V470.5 M483.5,491 V484.0 M485.5,491 V466.8 M489.5,491 V455.1 M491.5,491 V466.7 M496.5,491 V449.0 M499.5,491 V451.5 M502.5,491 V470.0 M504.5,491 V468.3 M508.5,491 V461.5 M512.5,491 V477.6 M514.5,491 V464.1 M518.5,491 V465.6 M522.5,491 V451.7 M527.5,491 V478.1 M531.5,491 V448.9 M535.5,491 V482.1 M540.5,491 V482.4 M545.5,491 V463.6 M550.5,491 V464.4 M554.5,491 V458.0 M557.5,491 V455.6 M562.5,491 V475.1 M567.5,491 V462.8 M572.5,491 V485.4 M575.5,491 V472.0 M580.5,491 V458.3 M582.5,491 V474.2 M586.5,491 V462.3 M590.5,491 V438.9 M593.5,491 V452.6 M597.5,491 V456.8 M600.5,491 V476.0 M603.5,491 V426.5 M606.5,491 V446.0 M608.5,491 V464.4 M613.5,491 V461.7 M615.5,491 V467.3 M620.5,491 V460.6 M624.5,491 V464.7 M628.5,491 V465.6 M632.5,491 V438.0 M637.5,491 V445.9 M641.5,491 V449.1 M646.5,491 V456.4 M648.5,491 V439.7 M651.5,491 V437.8 M655.5,491 V445.3 M660.5,491 V440.0 M662.5,491 V445.7 M667.5,491 V451.6 M671.5,491 V417.1 M675.5,491 V436.1 M678.5,491 V433.1 M683.5,491 V472.3 M686.5,491 V424.5 M688.5,491 V448.5 M690.5,491 V451.8 M692.5,491 V429.6 M695.5,491 V439.0 M697.5,491 V422.5 M701.5,491 V414.4 M703.5,491 V431.3 M708.5,491 V462.1 M710.5,491 V411.7 M715.5,491 V446.5 M718.5,491 V412.4 M721.5,491 V404.2 M726.5,491 V417.7 M731.5,491 V448.8 M734.5,491 V432.0 M739.5,491 V417.4 M742.5,491 V403.1 M744.5,491 V393.0 M747.5,491 V467.8 M751.5,491 V440.8 M755.5,491 V466.6 M760.5,491 V451.1 M763.5,491 V455.6 M767.5,491 V480.9 M771.5,491 V431.7 M776.5,491 V480.0 M778.5,491 V470.4 M781.5,491 V452.8 M785.5,491 V378.0 M790.5,491 V394.2 M794.5,491 V381.5 M798.5,491 V371.4 M802.5,491 V361.9 M807.5,491 V370.1 M811.5,491 V478.0 M814.5,491 V326.1 M818.5,491 V381.0 M823.5,491 V468.3 M828.5,491 V466.6 M831.5,491 V347.6 M836.5,491 V342.2 M840.5,491 V325.5 M843.5,491 V348.1 M847.5,491 V400.0 M852.5,491 V332.0 M856.5,491 V459.8 M859.5,491 V387.4 M862.5,491 V342.9 M866.5,491 V381.5" stroke="#ff4e02" stroke-width="1.3"/></g>
<g class="yl"><text x="33" y="488.3">0</text><text x="33" y="455.4">200</text><text x="33" y="422.5">400</text><text x="33" y="389.5">600</text><text x="33" y="356.6">800</text><text x="33" y="323.7">1000</text><text x="33" y="290.8">1200</text><text x="33" y="257.9">1400</text><text x="33" y="224.9">1600</text><text x="33" y="192.0">1800</text><text x="33" y="159.1">2000</text><text x="33" y="126.2">2200</text><text x="33" y="93.3">2400</text></g>
<g class="xl" clip-path="url(#cx)"><text transform="translate(78.5,504.0) rotate(-45)" text-anchor="end">30-sep-2019</text><text transform="translate(93.0,504.0) rotate(-45)" text-anchor="end">04-nov-2019</text><text transform="translate(107.5,504.0) rotate(-45)" text-anchor="end">09-dic-2019</text><text transform="translate(122.1,504.0) rotate(-45)" text-anchor="end">16-ene-20</text><text transform="translate(136.6,504.0) rotate(-45)" text-anchor="end">19-2-20</text><text transform="translate(151.1,504.0) rotate(-45)" text-anchor="end">30-3-20</text><text transform="translate(165.6,504.0) rotate(-45)" text-anchor="end">7-5-20</text><text transform="translate(180.1,504.0) rotate(-45)" text-anchor="end">11-6-20</text><text transform="translate(194.7,504.0) rotate(-45)" text-anchor="end">20-07-20</text><text transform="translate(209.2,504.0) rotate(-45)" text-anchor="end">24-8-20</text><text transform="translate(223.7,504.0) rotate(-45)" text-anchor="end">25-9-20</text><text transform="translate(238.2,504.0) rotate(-45)" text-anchor="end">30-10-20</text><text transform="translate(252.7,504.0) rotate(-45)" text-anchor="end">4-12-20</text><text transform="translate(267.3,504.0) rotate(-45)" text-anchor="end">15-1-21</text><text transform="translate(281.8,504.0) rotate(-45)" text-anchor="end">22-2-21</text><text transform="translate(296.3,504.0) rotate(-45)" text-anchor="end">29-3-21</text><text transform="translate(310.8,504.0) rotate(-45)" text-anchor="end">4/5/21</text><text transform="translate(325.3,504.0) rotate(-45)" text-anchor="end">9-6-21</text><text transform="translate(339.9,504.0) rotate(-45)" text-anchor="end">15-7-21</text><text transform="translate(354.4,504.0) rotate(-45)" text-anchor="end">19-8-21</text><text transform="translate(368.9,504.0) rotate(-45)" text-anchor="end">22-9-21</text><text transform="translate(383.4,504.0) rotate(-45)" text-anchor="end">28-10-21</text><text transform="translate(397.9,504.0) rotate(-45)" text-anchor="end">2-12-21</text><text transform="translate(412.5,504.0) rotate(-45)" text-anchor="end">10-1-22</text><text transform="translate(427.0,504.0) rotate(-45)" text-anchor="end">11-2-22</text><text transform="translate(441.5,504.0) rotate(-45)" text-anchor="end">21-3-22</text><text transform="translate(456.0,504.0) rotate(-45)" text-anchor="end">27-4-22</text><text transform="translate(470.5,504.0) rotate(-45)" text-anchor="end">2-6-22</text><text transform="translate(485.1,504.0) rotate(-45)" text-anchor="end">8-7-22</text><text transform="translate(499.6,504.0) rotate(-45)" text-anchor="end">11-8-22</text><text transform="translate(514.1,504.0) rotate(-45)" text-anchor="end">16-9-22</text><text transform="translate(528.6,504.0) rotate(-45)" text-anchor="end">24-10-22</text><text transform="translate(543.1,504.0) rotate(-45)" text-anchor="end">28-11-22</text><text transform="translate(557.7,504.0) rotate(-45)" text-anchor="end">3-1-23</text><text transform="translate(572.2,504.0) rotate(-45)" text-anchor="end">6-2-23</text><text transform="translate(586.7,504.0) rotate(-45)" text-anchor="end">14-mar-23</text><text transform="translate(601.2,504.0) rotate(-45)" text-anchor="end">20-abr-23</text><text transform="translate(615.7,504.0) rotate(-45)" text-anchor="end">29-may-23</text><text transform="translate(630.3,504.0) rotate(-45)" text-anchor="end">4-jul-23</text><text transform="translate(644.8,504.0) rotate(-45)" text-anchor="end">7-8-23</text><text transform="translate(659.3,504.0) rotate(-45)" text-anchor="end">11-9-23</text><text transform="translate(673.8,504.0) rotate(-45)" text-anchor="end">17-10-23</text><text transform="translate(688.3,504.0) rotate(-45)" text-anchor="end">22-11-23</text><text transform="translate(702.9,504.0) rotate(-45)" text-anchor="end">28-12-23</text><text transform="translate(717.4,504.0) rotate(-45)" text-anchor="end">1-2-24</text><text transform="translate(731.9,504.0) rotate(-45)" text-anchor="end">8-3-24</text><text transform="translate(746.4,504.0) rotate(-45)" text-anchor="end">17-4-24</text><text transform="translate(760.9,504.0) rotate(-45)" text-anchor="end">22-5-24</text><text transform="translate(775.5,504.0) rotate(-45)" text-anchor="end">28-6-24</text><text transform="translate(790.0,504.0) rotate(-45)" text-anchor="end">2-8-24</text><text transform="translate(804.5,504.0) rotate(-45)" text-anchor="end">5-9-24</text><text transform="translate(819.0,504.0) rotate(-45)" text-anchor="end">9-10-24</text><text transform="translate(833.5,504.0) rotate(-45)" text-anchor="end">13-11-24</text><text transform="translate(848.1,504.0) rotate(-45)" text-anchor="end">17-12-24</text><text transform="translate(862.6,504.0) rotate(-45)" text-anchor="end">23-1-25</text><text transform="translate(852.1,529.8) rotate(-45)" text-anchor="start" style="letter-spacing:0.1px">26-2-</text></g>
</svg>
<div id="note">Puntuación en dólares del índice S&amp;P Merval desde el 30/8/2019</div>
<div id="src">Fuente: <b>Infobae</b> con datos de Reuters</div>
</body></html>
